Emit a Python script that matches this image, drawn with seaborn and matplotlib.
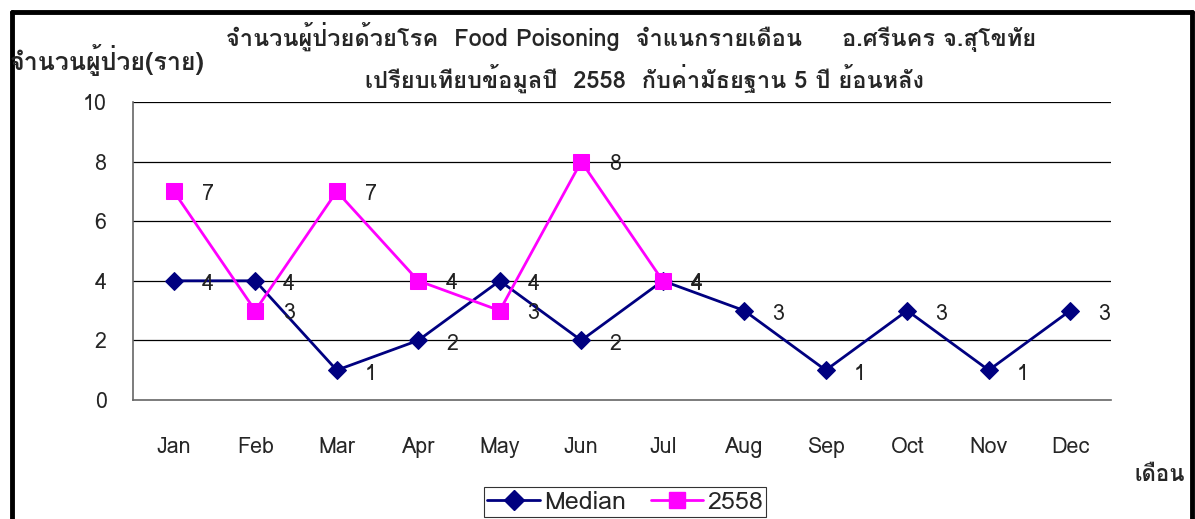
import numpy as np
import pandas as pd
import matplotlib
matplotlib.use("Agg")
import matplotlib.pyplot as plt
import seaborn as sns
from matplotlib import font_manager
from matplotlib.ft2font import FT2Font
from matplotlib.lines import Line2D

months = ["Jan", "Feb", "Mar", "Apr", "May", "Jun",
          "Jul", "Aug", "Sep", "Oct", "Nov", "Dec"]
median = [4, 4, 1, 2, 4, 2, 4, 3, 1, 3, 1, 3]
y2558 = [7, 3, 7, 4, 3, 8, 4, np.nan, np.nan, np.nan, np.nan, np.nan]

title_line1 = "จำนวนผู้ป่วยด้วยโรค  Food Poisoning  จำแนกรายเดือน     อ.ศรีนคร จ.สุโขทัย"
title_line2 = "เปรียบเทียบข้อมูลปี  2558  กับค่ามัธยฐาน 5 ปี ย้อนหลัง"
ylabel_text = "จำนวนผู้ป่วย(ราย)"
xlabel_text = "เดือน"

# find a font that has Thai glyphs
thai_family = None
for f in font_manager.fontManager.ttflist:
    try:
        if 0x0E08 in FT2Font(f.fname).get_charmap():
            thai_family = f.name
            break
    except Exception:
        pass

sns.set_style("white")
fams = ([thai_family] if thai_family else []) + ["DejaVu Sans"]
plt.rcParams["font.family"] = fams

df = pd.DataFrame({"Month": months, "Median": median, "2558": y2558})
df["pos"] = np.arange(len(months))

fig = plt.figure(figsize=(11.95, 5.19), dpi=100)
ax = fig.add_axes([0.1113, 0.2293, 0.8184, 0.5742])

navy = "#000080"
magenta = "#FF00FF"

sns.lineplot(data=df, x="pos", y="Median", ax=ax, color=navy, lw=2.0,
             marker="D", markersize=9, markeredgecolor=navy, zorder=3)
d2 = df.dropna(subset=["2558"])
sns.lineplot(data=d2, x="pos", y="2558", ax=ax, color=magenta, lw=2.0,
             marker="s", markersize=11, markeredgecolor=magenta, zorder=4)

for xi, v in zip(df["pos"], median):
    ax.annotate(f"{v}", (xi, v), xytext=(20, -3), textcoords="offset points",
                fontsize=15.5, color="#222222", va="center", ha="left")
for xi, v in zip(d2["pos"], d2["2558"]):
    ax.annotate(f"{int(v)}", (xi, v), xytext=(20, -2), textcoords="offset points",
                fontsize=15.5, color="#222222", va="center", ha="left")

ax.set_xlim(-0.5, 11.5)
ax.set_ylim(0, 10)
ax.set_yticks([0, 2, 4, 6, 8, 10])
ax.set_xticks(df["pos"])
ax.set_xticklabels(months)
ax.set_xticks(np.arange(-0.5, 12, 1), minor=True)
ax.tick_params(axis="x", which="major", length=0, pad=27, labelsize=15.5)
ax.tick_params(axis="x", which="minor", length=6, color="#555555", direction="out")
ax.tick_params(axis="y", length=7, color="#555555", direction="out", pad=12, labelsize=15.5)
ax.set_xlabel("")
ax.set_ylabel("")
for y in [2, 4, 6, 8, 10]:
    ax.axhline(y, color="black", lw=0.9, zorder=1)
for s in ["top", "right"]:
    ax.spines[s].set_visible(False)
ax.spines["left"].set_color("#666666")
ax.spines["bottom"].set_color("#666666")
ax.spines["left"].set_linewidth(1.2)
ax.spines["bottom"].set_linewidth(1.2)

fig.text(0.528, 0.929, title_line1, ha="center", va="center", fontsize=17,
         fontweight="bold")
fig.text(0.539, 0.850, title_line2, ha="center", va="center", fontsize=17,
         fontweight="bold")
fig.text(0.008, 0.884, ylabel_text, ha="left", va="center", fontsize=18,
         fontweight="bold")
fig.text(0.992, 0.085, xlabel_text, ha="right", va="center", fontsize=16,
         fontweight="bold")

handles = [Line2D([], [], color=navy, lw=2.0, marker="D", markersize=10),
           Line2D([], [], color=magenta, lw=2.0, marker="s", markersize=12)]
leg = fig.legend(handles, ["Median", "2558"], loc="upper center",
                 bbox_to_anchor=(0.523, 0.062), ncol=2, fontsize=18,
                 frameon=True, fancybox=False, edgecolor="black",
                 handlelength=2.1, handletextpad=0.15, columnspacing=1.0,
                 borderpad=0.15, borderaxespad=0)
leg.get_frame().set_linewidth(0.8)

# outer thick frame (bottom runs off the picture)
for xs, ys in [([0.010, 0.010], [-0.05, 0.977]),
               ([0.010, 0.9975], [0.977, 0.977]),
               ([0.9975, 0.9975], [-0.05, 0.977])]:
    fig.add_artist(Line2D(xs, ys, color="black", lw=3.5,
                          transform=fig.transFigure))

fig.savefig("out.png", dpi=100)
